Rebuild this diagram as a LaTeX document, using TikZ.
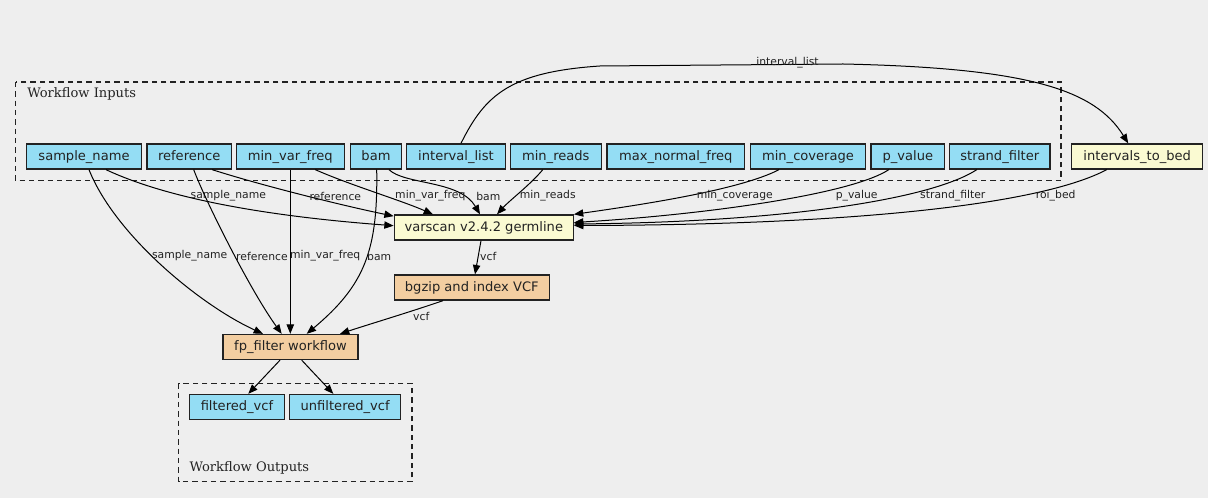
\documentclass[tikz,border=0pt]{standalone}
\usepackage{fontspec}
\setmainfont{DejaVu Sans}
\newfontfamily\serifclust{DejaVu Serif}
\usetikzlibrary{arrows.meta,calc}
\definecolor{bgc}{HTML}{EEEEEE}
\definecolor{inpc}{HTML}{94DDF4}
\definecolor{toolc}{HTML}{FAFAD2}
\definecolor{wfc}{HTML}{F3CEA1}
\definecolor{linec}{HTML}{222222}
\tikzset{
  box/.style={draw=linec, line width=1pt, minimum height=18.75pt, inner sep=0pt,
    text height=7.2pt, text depth=1.9pt,
    font=\fontsize{9.8}{11}\selectfont, text=linec},
  inp/.style={box, fill=inpc},
  tool/.style={box, fill=toolc},
  wf/.style={box, fill=wfc},
  conn/.style={-{Triangle[length=7pt,width=5.5pt]}, line width=0.75pt, draw=black},
  lab/.style={font=\fontsize{8.1}{9}\selectfont, inner sep=0pt, text=linec},
  clust/.style={draw=linec, line width=0.9pt, dash pattern=on 4pt off 3pt},
  clustlab/.style={font=\serifclust\fontsize{9.8}{11}\selectfont, inner sep=0pt, text=linec, anchor=west}
}
\begin{document}
\begin{tikzpicture}[x=0.75pt,y=-0.75pt]
\fill[bgc] (0,0) rectangle (1208,498);
\useasboundingbox (0,0) rectangle (1208,498);
% clusters
\draw[clust] (15.7,82) rectangle (1061,180.7);
\node[clustlab] (cin) at (27,93.5) {Workflow Inputs};
\draw[clust] (178.7,383.3) rectangle (412,481.7);
\node[clustlab] (cout) at (189.3,468.3) {Workflow Outputs};
% input nodes
\node[inp, minimum width=86pt] (sn) at (84,156.5) {sample\_name};
\node[inp, minimum width=63.2pt] (ref) at (189.2,156.5) {reference};
\node[inp, minimum width=81pt] (mvf) at (290.3,156.5) {min\_var\_freq};
\node[inp, minimum width=38pt] (bam) at (376,156.5) {bam};
\node[inp, minimum width=74pt] (il) at (456,156.5) {interval\_list};
\node[inp, minimum width=68.2pt] (mr) at (555.8,156.5) {min\_reads};
\node[inp, minimum width=103.3pt] (mnf) at (675.8,156.5) {max\_normal\_freq};
\node[inp, minimum width=86pt] (mc) at (808,156.5) {min\_coverage};
\node[inp, minimum width=55.3pt] (pv) at (907.8,156.5) {p\_value};
\node[inp, minimum width=75.2pt] (sf) at (999.8,156.5) {strand\_filter};
\node[tool, minimum width=98.2pt] (itb) at (1137.2,156.5) {intervals\_to\_bed};
% steps
\node[tool, minimum width=134.2pt] (vs) at (483.8,227.5) {varscan v2.4.2 germline};
\node[wf, minimum width=116.2pt] (bg) at (471.8,287.5) {bgzip and index VCF};
\node[wf, minimum width=101.2pt] (fp) at (290.5,347) {fp\_filter workflow};
% outputs
\node[inp, minimum width=71pt] (fv) at (237,407) {filtered\_vcf};
\node[inp, minimum width=83.2pt] (ufv) at (345.2,407) {unfiltered\_vcf};
% interval_list -> intervals_to_bed
\draw[conn] ($(il.north)+(5,0)$) .. controls (485,95) and (510,72) .. (600,66)
  -- (843,64) .. controls (1030,68) and (1095,90) .. ($(itb.north)+(-9,0)$);
\node[lab] (l0) at (787.5,63) {interval\_list};
% edges to varscan
\draw[conn] ($(sn.south)+(22,0)$) .. controls (160,195) and (250,215) .. ($(vs.west)+(0,-1.8)$);
\draw[conn] ($(ref.south)+(23,0)$) .. controls (260,185) and (340,205) .. ($(vs.north west)+(0,1.8)$);
\draw[conn] ($(mvf.south)+(25,0)$) .. controls (350,185) and (400,200) .. ($(vs.north)+(-50.8,0)$);
\draw[conn] ($(bam.south)+(13,0)$) .. controls (405,185) and (460,180) .. ($(vs.north)+(-3.8,0)$);
\draw[conn] ($(mr.south)+(-13,0)$) .. controls (530,185) and (510,200) .. ($(vs.north)+(13.2,0)$);
\draw[conn] ($(mc.south)+(-29,0)$) .. controls (740,190) and (640,205) .. (vs.north east);
\draw[conn] ($(pv.south)+(-19,0)$) .. controls (850,195) and (700,215) .. ($(vs.east)+(0,-5)$);
\draw[conn] ($(sf.south)+(-23,0)$) .. controls (930,200) and (780,222) .. ($(vs.east)+(0,-3.5)$);
\draw[conn] ($(itb.south)+(-30.5,0)$) .. controls (1040,205) and (850,225) .. ($(vs.east)+(0,-2)$);
\node[lab] (l1) at (228.3,196) {sample\_name};
\node[lab] (l2) at (335.3,196) {reference};
\node[lab] (l3) at (430.3,196) {min\_var\_freq};
\node[lab] (l4) at (488.3,196) {bam};
\node[lab] (l5) at (547.8,196) {min\_reads};
\node[lab] (l6) at (734.8,196) {min\_coverage};
\node[lab] (l7) at (856.7,196) {p\_value};
\node[lab] (l8) at (952.8,196) {strand\_filter};
\node[lab] (l9) at (1055.7,196) {roi\_bed};
% edges to fp_filter
\draw[conn] ($(sn.south)+(5,0)$) .. controls (115,235) and (200,305) .. ($(fp.north)+(-27.5,0)$);
\draw[conn] ($(ref.south)+(4.5,0)$) .. controls (205,200) and (250,290) .. ($(fp.north)+(-8.8,0)$);
\draw[conn] (mvf.south) -- (mvf.south |- fp.north);
\draw[conn] ($(bam.south)+(0.7,0)$) .. controls (378,250) and (365,285) .. ($(fp.north)+(16.2,0)$);
\node[lab] (l10) at (189.7,256) {sample\_name};
\node[lab] (l11) at (262,256) {reference};
\node[lab] (l12) at (325.2,256) {min\_var\_freq};
\node[lab] (l13) at (379.2,256) {bam};
% vcf chain
\draw[conn] ($(vs.south)+(-2.8,0)$) -- ($(bg.north)+(3.2,0)$);
\node[lab] (l14) at (488.3,256) {vcf};
\draw[conn] ($(bg.south)+(-28.8,0)$) .. controls (410,312) and (370,324) .. ($(fp.north)+(49.5,0)$);
\node[lab] (l15) at (421.3,316) {vcf};
% outputs
\draw[conn] ($(fp.south)+(-10.5,0)$) -- ($(fv.north)+(11.3,0)$);
\draw[conn] ($(fp.south)+(11.2,0)$) -- ($(ufv.north)+(-11.9,0)$);
\end{tikzpicture}
\end{document}
